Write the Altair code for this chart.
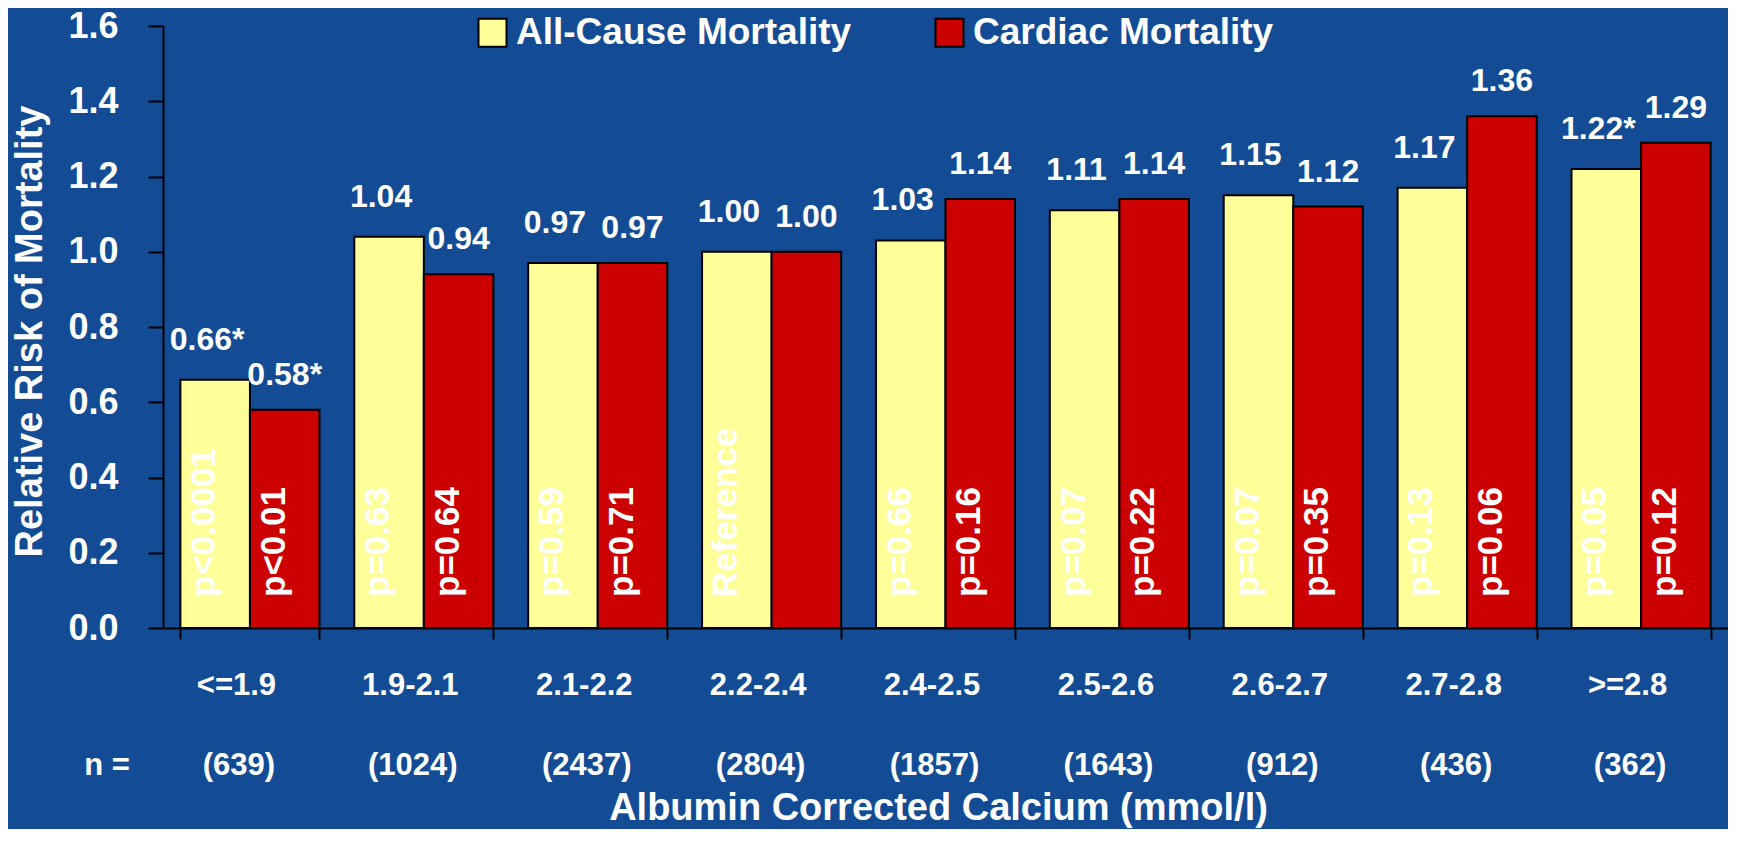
import altair as alt
import pandas as pd

cats = ["<=1.9", "1.9-2.1", "2.1-2.2", "2.2-2.4", "2.4-2.5", "2.5-2.6", "2.6-2.7", "2.7-2.8", ">=2.8"]
n_labels = ["(639)", "(1024)", "(2437)", "(2804)", "(1857)", "(1643)", "(912)", "(436)", "(362)"]
series_names = ["All-Cause Mortality", "Cardiac Mortality"]
all_cause = [0.66, 1.04, 0.97, 1.00, 1.03, 1.11, 1.15, 1.17, 1.22]
cardiac = [0.58, 0.94, 0.97, 1.00, 1.14, 1.14, 1.12, 1.36, 1.29]
all_text = ["0.66*", "1.04", "0.97", "1.00", "1.03", "1.11", "1.15", "1.17", "1.22*"]
cardiac_text = ["0.58*", "0.94", "0.97", "1.00", "1.14", "1.14", "1.12", "1.36", "1.29"]
all_p = ["p<0.0001", "p=0.63", "p=0.59", "Reference", "p=0.66", "p=0.07", "p=0.07", "p=0.13", "p=0.05"]
cardiac_p = ["p<0.01", "p=0.64", "p=0.71", "", "p=0.16", "p=0.22", "p=0.35", "p=0.06", "p=0.12"]
y_ticks = [0.0, 0.2, 0.4, 0.6, 0.8, 1.0, 1.2, 1.4, 1.6]

rows = []
for i, c in enumerate(cats):
    rows.append({"cat": c, "series": series_names[0], "value": all_cause[i], "label": all_text[i], "p": all_p[i]})
    rows.append({"cat": c, "series": series_names[1], "value": cardiac[i], "label": cardiac_text[i], "p": cardiac_p[i]})
df = pd.DataFrame(rows)
ndf = pd.DataFrame({"cat": cats, "n": n_labels})

W, H = 1565, 602
FONT = "Liberation Sans"

x_enc = alt.X("cat:N", sort=cats, scale=alt.Scale(paddingInner=0.2, paddingOuter=0.1),
              axis=alt.Axis(title="Albumin Corrected Calcium (mmol/l)", labelAngle=0,
                            labelFontSize=31, labelPadding=55, labelBaseline="alphabetic",
                            labelOffset=-14, tickSize=11, tickBand="extent",
                            titleFontSize=38, titleY=191, titleX=775, titleBaseline="alphabetic"))
xoff = alt.XOffset("series:N", sort=series_names, scale=alt.Scale(paddingInner=0, paddingOuter=0))
y_enc = alt.Y("value:Q", scale=alt.Scale(domain=[0, 1.6], nice=False),
              axis=alt.Axis(title="Relative Risk of Mortality", values=y_ticks, format=".1f",
                            labelFontSize=36, labelPadding=30, tickSize=15, grid=False,
                            titleFontSize=38, titleX=-122, titleY=305, titleAngle=270,
                            titleBaseline="alphabetic"))

bars = alt.Chart(df).mark_bar(stroke="black", strokeWidth=2).encode(
    x=x_enc, xOffset=xoff, y=y_enc,
    color=alt.Color("series:N", sort=series_names,
                    scale=alt.Scale(domain=series_names, range=["#FFFF99", "#CC0000"]),
                    legend=alt.Legend(title=None, orient="none", legendX=311, legendY=-12,
                                      direction="horizontal", symbolType="square", symbolSize=784,
                                      symbolStrokeColor="black", symbolStrokeWidth=2,
                                      symbolOpacity=1, labelFontSize=37, labelColor="white",
                                      labelFont=FONT, labelFontWeight="bold",
                                      columnPadding=79, labelOffset=5, labelLimit=600)),
)

vals_all = alt.Chart(df).transform_filter(alt.datum.series == series_names[0]).mark_text(
    font=FONT, fontWeight="bold", fontSize=32, color="white",
    baseline="alphabetic", align="center", dy=-30, dx=-8).encode(
    x=alt.X("cat:N", sort=cats), xOffset=xoff, y="value:Q", text="label:N")

vals_card = alt.Chart(df).transform_filter(alt.datum.series == series_names[1]).mark_text(
    font=FONT, fontWeight="bold", fontSize=32, color="white",
    baseline="alphabetic", align="center", dy=-25).encode(
    x=alt.X("cat:N", sort=cats), xOffset=xoff, y="value:Q", text="label:N")

pvals = alt.Chart(df).mark_text(font=FONT, fontWeight="bold", fontSize=35, color="white",
                                angle=270, align="left", baseline="alphabetic", dx=31).encode(
    x=alt.X("cat:N", sort=cats), xOffset=xoff, y=alt.datum(0), text="p:N")

ntext = alt.Chart(ndf).mark_text(font=FONT, fontWeight="bold", fontSize=31, color="white",
                                 baseline="alphabetic", align="center", dx=-11).encode(
    x=alt.X("cat:N", sort=cats), y=alt.value(H + 147), text="n:N")

nlab = alt.Chart(pd.DataFrame({"t": ["n ="]})).mark_text(
    font=FONT, fontWeight="bold", fontSize=31, color="white", baseline="alphabetic", align="center"
).encode(x=alt.value(-56), y=alt.value(H + 147), text="t:N")

chart = alt.layer(bars, vals_all, vals_card, pvals, ntext, nlab).properties(
    width=W, height=H,
    autosize=alt.AutoSizeParams(type="none"),
    padding={"left": 155, "top": 18, "right": 0, "bottom": 201},
    background="#134c94",
).configure_view(stroke=None).configure_axis(
    labelFont=FONT, labelFontWeight="bold", labelColor="white",
    titleFont=FONT, titleFontWeight="bold", titleColor="white",
    domainColor="black", domainWidth=2, tickColor="black", tickWidth=2,
)

chart.save("out.html", embed_options={"renderer": "svg", "actions": False})
